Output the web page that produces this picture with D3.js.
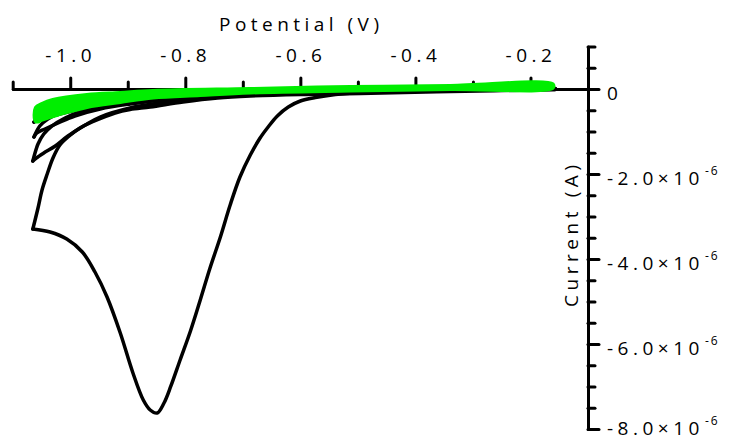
<html>
<head>
<script type="text/javascript" src="https://cdnjs.cloudflare.com/ajax/libs/d3/7.8.5/d3.min.js"></script>
<style type="text/css">
  body{ margin:0; background:#fff; }
  svg{ display:block; }
  .lbl{ font-family:"Open Sans", sans-serif; font-size:19px; fill:#000; }
</style>
</head>
<body>
<div id="cvChart"></div>
<script type="text/javascript">
// potential in V, current in microamps (axis labels are x10^-6 A)
let xMajorTicks=[-1.0,-0.8,-0.6,-0.4,-0.2];
let xMinorTicks=[-1.1,-0.9,-0.7,-0.5,-0.3];
let yMajorTicks=[0,-2,-4,-6,-8];
let yMinorTicks=[1,0.5,-0.5,-1,-1.5,-2.5,-3,-3.5,-4.5,-5,-5.5,-6.5,-7,-7.5];

let cycle1Potential=[-0.157,-0.287,-0.391,-0.426,-0.496,-0.539,-0.574,-0.600,-0.621,-0.640,-0.656,-0.670,-0.687,-0.705,-0.722,-0.739,-0.757,-0.774,-0.791,-0.809,-0.825,-0.837,-0.849,
  -0.861,-0.873,-0.891,-0.913,-0.936,-0.957,-0.979,-1.006,-1.035,-1.065,
  -1.056,-1.049,-1.040,-1.030,-1.018,-1.004,-0.983,-0.962,-0.922,-0.896,-0.861,-0.804,-0.744,-0.687,-0.600,-0.496,-0.339,-0.157];
let cycle1Current=[0,-0.024,-0.035,-0.047,-0.082,-0.129,-0.200,-0.282,-0.424,-0.635,-0.894,-1.153,-1.553,-2.071,-2.729,-3.482,-4.212,-4.965,-5.694,-6.376,-6.988,-7.388,-7.624,
  -7.553,-7.318,-6.682,-5.741,-4.894,-4.306,-3.835,-3.529,-3.365,-3.294,
  -2.800,-2.376,-2.000,-1.624,-1.318,-1.129,-0.918,-0.776,-0.565,-0.482,-0.424,-0.306,-0.212,-0.165,-0.129,-0.106,-0.059,-0.012];

let cycle2Potential=[-0.157,-0.426,-0.600,-0.774,-0.861,-0.913,-0.948,-0.983,-1.009,-1.032,-1.046,-1.056,-1.065,
  -1.059,-1.046,-1.026,-1.004,-0.974,-0.948,-0.896,-0.844,-0.774,-0.600,-0.157];
let cycle2Current=[0,-0.047,-0.094,-0.200,-0.282,-0.353,-0.424,-0.541,-0.682,-0.871,-1.059,-1.294,-1.694,
  -1.624,-1.506,-1.341,-1.106,-0.847,-0.659,-0.447,-0.329,-0.224,-0.094,-0.012];

let cycle3Potential=[-0.157,-0.426,-0.600,-0.774,-0.861,-0.931,-0.983,-1.018,-1.039,-1.053,-1.063,
  -1.058,-1.044,-1.021,-0.992,-0.948,-0.896,-0.826,-0.687,-0.426,-0.157];
let cycle3Current=[0,-0.035,-0.071,-0.141,-0.212,-0.306,-0.424,-0.565,-0.706,-0.871,-1.129,
  -1.035,-0.941,-0.800,-0.635,-0.471,-0.353,-0.235,-0.118,-0.047,0];

let cycle4Potential=[-0.157,-0.600,-0.774,-0.922,-1.000,-1.044,-1.063,-1.053,-1.018,-0.948,-0.774,-0.157];
let cycle4Current=[0.012,-0.047,-0.118,-0.306,-0.494,-0.635,-0.776,-0.706,-0.588,-0.376,-0.141,0.012];

let controlPotential=[-0.162,-0.339,-0.513,-0.687,-0.774,-0.856,-0.913,-0.971,-1.021,-1.049,-1.059,
  -1.059,-1.049,-1.030,-0.971,-0.913,-0.856,-0.687,-0.513,-0.339,-0.162];
let controlCurrent=[0.035,0.012,-0.024,-0.071,-0.129,-0.188,-0.294,-0.412,-0.588,-0.706,-0.753,
  -0.447,-0.365,-0.271,-0.153,-0.106,-0.059,-0.012,0.035,0.059,0.106];

let containerDim={width:730,height:443};
let margin={top:46.5,bottom:14,left:12.7,right:142};
let width=containerDim.width-margin.left-margin.right;
let height=containerDim.height-margin.top-margin.bottom;

let svg=d3.select('#cvChart')
.append('svg')
.attr('width',containerDim.width)
.attr('height',containerDim.height);

let g=svg.append('g')
.attr('transform','translate('+margin.left+','+margin.top+')');

let x=d3.scaleLinear().domain([-1.1,-0.1]).range([0,width]);
let y=d3.scaleLinear().domain([1,-8]).range([0,height]);

function zipSeries(pot,cur){
  return pot.map((p,i)=>[p,cur[i]]);
}

// split a cycle at its switching potential into forward and reverse scans
function splitScan(pts){
  let k=d3.minIndex(pts,d=>d[0]);
  return [pts.slice(0,k+1),pts.slice(k)];
}

// x axis sits on the zero current line, ticks pointing up
let xAxisG=g.append('g')
.attr('transform','translate(0,'+y(0)+')');

xAxisG.append('g')
.call(d3.axisTop(x).tickValues(xMinorTicks).tickSize(7).tickSizeOuter(0).tickFormat(''))
.call(a=>a.select('.domain').remove());

xAxisG.append('g')
.call(d3.axisTop(x).tickValues(xMajorTicks).tickSize(11).tickSizeOuter(0).tickPadding(16).tickFormat(d=>d.toFixed(1)));

// y axis at the right end (-0.1 V), ticks pointing right
let yAxisG=g.append('g')
.attr('transform','translate('+x(-0.1)+',0)');

yAxisG.append('g')
.call(d3.axisRight(y).tickValues(yMinorTicks).tickSize(7).tickSizeOuter(0).tickFormat(''))
.call(a=>a.select('.domain').remove());

let yMajor=yAxisG.append('g')
.call(d3.axisRight(y).tickValues(yMajorTicks).tickSize(11).tickSizeOuter(0).tickPadding(8));

g.selectAll('.domain, .tick line')
.attr('stroke','#000')
.attr('stroke-width',3)
.attr('stroke-linecap','round');

g.selectAll('.tick text')
.attr('class','lbl')
.attr('font-size',null)
.attr('font-family',null)
.attr('fill','#000')
.attr('letter-spacing','4.5px');

yMajor.selectAll('.tick text')
.attr('dy',d=>d===-8?'0.3em':'0.55em')
.each(function(d){
  let t=d3.select(this);
  t.text(null);
  if(d===0){
    t.text('0');
  } else {
    t.append('tspan').text(d.toFixed(1)+'\u00d710');
    t.append('tspan').attr('dy',-10).attr('dx',1).attr('font-size',12).attr('letter-spacing','2px').text('-6');
  }
});

// axis titles
svg.append('text')
.attr('class','lbl')
.attr('x',219)
.attr('y',31)
.attr('textLength',160)
.attr('lengthAdjust','spacing')
.text('Potential (V)');

svg.append('text')
.attr('class','lbl')
.attr('transform','translate(578,307) rotate(-90)')
.attr('textLength',142)
.attr('lengthAdjust','spacing')
.text('Current (A)');

let line=d3.line()
.x(d=>x(d[0]))
.y(d=>y(d[1]))
.curve(d3.curveCatmullRom.alpha(0.5));

let blackScans=[];
[
  zipSeries(cycle1Potential,cycle1Current),
  zipSeries(cycle2Potential,cycle2Current),
  zipSeries(cycle3Potential,cycle3Current),
  zipSeries(cycle4Potential,cycle4Current)
].forEach(c=>{ blackScans=blackScans.concat(splitScan(c)); });

g.append('g')
.selectAll('path')
.data(blackScans)
.enter()
.append('path')
.attr('d',line)
.attr('fill','none')
.attr('stroke','#000')
.attr('stroke-width',3.5)
.attr('stroke-linejoin','round')
.attr('stroke-linecap','round');

g.append('path')
.datum(zipSeries(controlPotential,controlCurrent))
.attr('d',d3.line().x(d=>x(d[0])).y(d=>y(d[1])).curve(d3.curveCatmullRomClosed.alpha(0.5)))
.attr('fill','#00ee00')
.attr('stroke','#00ee00')
.attr('stroke-width',5)
.attr('stroke-linejoin','round');
</script>
</body>
</html>
